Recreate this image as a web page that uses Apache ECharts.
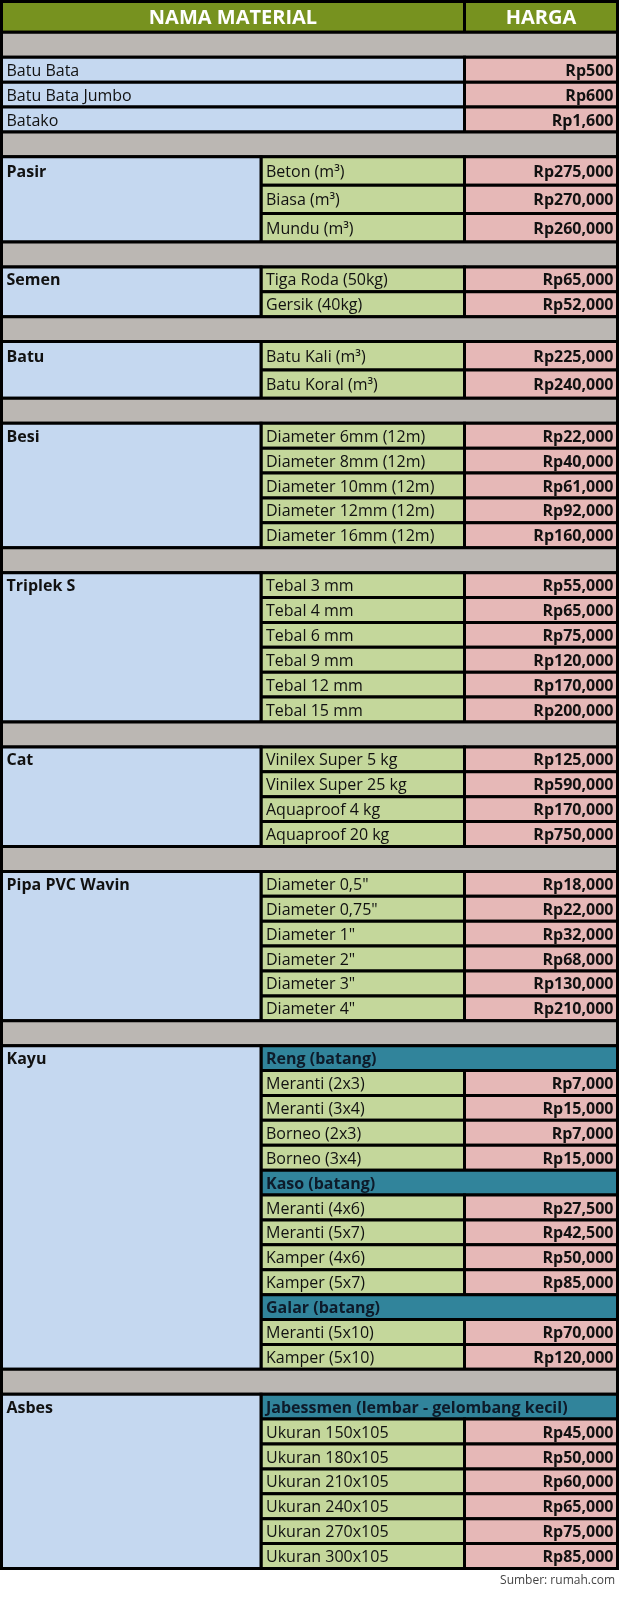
<!DOCTYPE html>
<html>
<head>
<meta charset="utf-8">
<script src="https://cdn.jsdelivr.net/npm/echarts@6/dist/echarts.min.js"></script>
<style>
  html, body { margin: 0; padding: 0; background: #ffffff; }
  #chart { width: 619px; height: 1600px; }
</style>
</head>
<body>
<div id="chart"></div>
<script>
// ---------- DATA ----------
const headerLabels = ['NAMA MATERIAL', 'HARGA'];
const sourceNote = 'Sumber: rumah.com';

const singleNames = ['Batu Bata', 'Batu Bata Jumbo', 'Batako'];
const singlePrices = [500, 600, 1600];

const groupNames = ['Pasir', 'Semen', 'Batu', 'Besi', 'Triplek S', 'Cat', 'Pipa PVC Wavin', 'Kayu', 'Asbes'];

const pasirItems = ['Beton (m³)', 'Biasa (m³)', 'Mundu (m³)'];
const pasirPrices = [275000, 270000, 260000];

const semenItems = ['Tiga Roda (50kg)', 'Gersik (40kg)'];
const semenPrices = [65000, 52000];

const batuItems = ['Batu Kali (m³)', 'Batu Koral (m³)'];
const batuPrices = [225000, 240000];

const besiItems = ['Diameter 6mm (12m)', 'Diameter 8mm (12m)', 'Diameter 10mm (12m)', 'Diameter 12mm (12m)', 'Diameter 16mm (12m)'];
const besiPrices = [22000, 40000, 61000, 92000, 160000];

const triplekItems = ['Tebal 3 mm', 'Tebal 4 mm', 'Tebal 6 mm', 'Tebal 9 mm', 'Tebal 12 mm', 'Tebal 15 mm'];
const triplekPrices = [55000, 65000, 75000, 120000, 170000, 200000];

const catItems = ['Vinilex Super 5 kg', 'Vinilex Super 25 kg', 'Aquaproof 4 kg', 'Aquaproof 20 kg'];
const catPrices = [125000, 590000, 170000, 750000];

const pipaItems = ['Diameter 0,5"', 'Diameter 0,75"', 'Diameter 1"', 'Diameter 2"', 'Diameter 3"', 'Diameter 4"'];
const pipaPrices = [18000, 22000, 32000, 68000, 130000, 210000];

const kayuSubheads = ['Reng (batang)', 'Kaso (batang)', 'Galar (batang)'];
const rengItems = ['Meranti (2x3)', 'Meranti (3x4)', 'Borneo (2x3)', 'Borneo (3x4)'];
const rengPrices = [7000, 15000, 7000, 15000];
const kasoItems = ['Meranti (4x6)', 'Meranti (5x7)', 'Kamper (4x6)', 'Kamper (5x7)'];
const kasoPrices = [27500, 42500, 50000, 85000];
const galarItems = ['Meranti (5x10)', 'Kamper (5x10)'];
const galarPrices = [70000, 120000];

const asbesSubheads = ['Jabessmen (lembar - gelombang kecil)'];
const jabesItems = ['Ukuran 150x105', 'Ukuran 180x105', 'Ukuran 210x105', 'Ukuran 240x105', 'Ukuran 270x105', 'Ukuran 300x105'];
const jabesPrices = [45000, 50000, 60000, 65000, 75000, 85000];

// ---------- STRUCTURE (built from the arrays above) ----------
const groupSections = [
  [[null, pasirItems, pasirPrices]],
  [[null, semenItems, semenPrices]],
  [[null, batuItems, batuPrices]],
  [[null, besiItems, besiPrices]],
  [[null, triplekItems, triplekPrices]],
  [[null, catItems, catPrices]],
  [[null, pipaItems, pipaPrices]],
  [[kayuSubheads[0], rengItems, rengPrices], [kayuSubheads[1], kasoItems, kasoPrices], [kayuSubheads[2], galarItems, galarPrices]],
  [[asbesSubheads[0], jabesItems, jabesPrices]]
];

// ---------- LAYOUT / STYLE ----------
const COLS = [0, 259.5, 463, 616];        // column edges in x-axis units
const H_HEADER = 1.24, H_SUP = 1.14, H_ROW = 1; // row heights in y-axis units
const FILL = {
  head: '#77921f', sep: '#bbb7b3', name: '#c5d8f0',
  item: '#c4d79b', price: '#e6b8b7', teal: '#31849b'
};
const FONT = 'Open Sans';

const fmt = v => 'Rp' + v.toLocaleString('en-US');

const cells = [];
let y = 0;
function add(x0, x1, y0, y1, kind, text, align, textRow) {
  cells.push({ v: [x0, x1, y0, y1], kind, text, align, textRow: textRow || [y0, y1] });
}
function sep() { add(COLS[0], COLS[3], y, y + H_ROW, 'sep', '', 'left'); y += H_ROW; }

add(COLS[0], COLS[2], y, y + H_HEADER, 'head', headerLabels[0], 'center');
add(COLS[2], COLS[3], y, y + H_HEADER, 'head', headerLabels[1], 'center');
y += H_HEADER;
sep();
singleNames.forEach((n, i) => {
  add(COLS[0], COLS[2], y, y + H_ROW, 'name', n, 'left');
  add(COLS[2], COLS[3], y, y + H_ROW, 'price', fmt(singlePrices[i]), 'right');
  y += H_ROW;
});
sep();
groupNames.forEach((g, gi) => {
  const start = y;
  let firstH = null;
  groupSections[gi].forEach(([sub, items, prices]) => {
    if (sub) {
      if (firstH === null) firstH = H_ROW;
      add(COLS[1], COLS[3], y, y + H_ROW, 'teal', sub, 'left');
      y += H_ROW;
    }
    items.forEach((it, i) => {
      const h = it.indexOf('³') >= 0 ? H_SUP : H_ROW;
      if (firstH === null) firstH = h;
      add(COLS[1], COLS[2], y, y + h, 'item', it, 'left');
      add(COLS[2], COLS[3], y, y + h, 'price', fmt(prices[i]), 'right');
      y += h;
    });
  });
  add(COLS[0], COLS[1], start, y, 'name', g, 'left', [start, start + firstH]);
  if (gi < groupNames.length - 1) sep();
});
const TOTAL = y;

// ---------- CHART ----------
const chart = echarts.init(document.getElementById('chart'), null, { renderer: 'canvas' });
chart.setOption({
  animation: false,
  backgroundColor: '#ffffff',
  title: {
    text: sourceNote, right: 4, top: 1575, padding: 0,
    textStyle: { fontFamily: FONT, fontSize: 12, fontWeight: 'normal', color: '#444444' }
  },
  grid: { left: 1.5, right: 1.5, top: 1.5, bottom: 31.5 },
  xAxis: { type: 'value', min: 0, max: COLS[3], show: false },
  yAxis: { type: 'value', min: 0, max: TOTAL, inverse: true, show: false },
  series: [{
    type: 'custom',
    clip: false,
    data: cells.map(c => c.v),
    renderItem: function (params, api) {
      const c = cells[params.dataIndex];
      const p0 = api.coord([api.value(0), api.value(2)]);
      const p1 = api.coord([api.value(1), api.value(3)]);
      const children = [{
        type: 'rect',
        shape: { x: p0[0], y: p0[1], width: p1[0] - p0[0], height: p1[1] - p0[1] },
        style: { fill: FILL[c.kind], stroke: '#000000', lineWidth: 3 }
      }];
      if (c.text) {
        const t0 = api.coord([0, c.textRow[0]])[1];
        const t1 = api.coord([0, c.textRow[1]])[1];
        let tx = p0[0] + 5;
        if (c.align === 'right') tx = p1[0] - 4;
        if (c.align === 'center') tx = (p0[0] + p1[0]) / 2;
        const bold = c.kind === 'head' || c.kind === 'price' || c.kind === 'teal' || (c.kind === 'name' && c.textRow[1] - c.textRow[0] !== c.v[3] - c.v[2]);
        children.push({
          type: 'text',
          style: {
            x: tx, y: (t0 + t1) / 2 + 1.5,
            text: c.text,
            fill: c.kind === 'head' ? '#ffffff' : (c.kind === 'teal' ? '#0d1b2a' : '#111111'),
            font: (bold ? 'bold ' : '') + (c.kind === 'head' ? 20 : 16) + 'px "' + FONT + '"',
            textAlign: c.align,
            textVerticalAlign: 'middle'
          }
        });
      }
      return { type: 'group', children };
    }
  }]
});
</script>
</body>
</html>
